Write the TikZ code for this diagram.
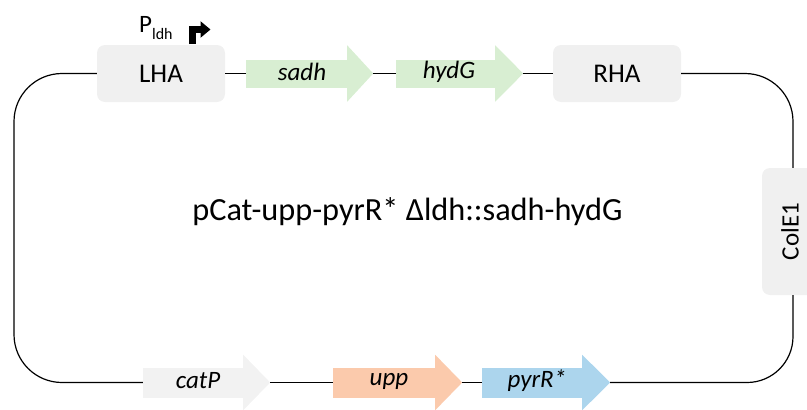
\documentclass[tikz,border=0pt]{standalone}
\usepackage{fontspec}
\setmainfont{Carlito}
\usetikzlibrary{arrows.meta}
\definecolor{boxgray}{RGB}{240,240,240}
\definecolor{genegray}{RGB}{242,242,242}
\definecolor{genegreen}{RGB}{216,238,210}
\definecolor{genepeach}{RGB}{251,202,172}
\definecolor{geneblue}{RGB}{172,213,237}
\newcommand\genehead[4]{%
  \fill[#4] ([yshift=#2]#1.north east) -- ([xshift=#3]#1.east) coordinate (#1-tip) -- ([yshift=-#2]#1.south east) -- cycle;}
\begin{document}
\begin{tikzpicture}[x=1pt,y=-1pt,
  hbox/.style={fill=boxgray, rounded corners=8pt, inner sep=0pt, font=\fontsize{27}{30}\selectfont},
  genebody/.style={inner sep=0pt, minimum height=28pt, font=\fontsize{25}{28}\selectfont\itshape},
  bb/.style={line width=1.2pt, black}]
\useasboundingbox (0,0) rectangle (807,410);
\clip (0,0) rectangle (807,410);
% backbone corners
\coordinate (tl) at (14,73.5);
\coordinate (tr) at (793,73.5);
\coordinate (br) at (793,382.5);
\coordinate (bl) at (14,382.5);
% boxes
\node[hbox, minimum width=128pt, minimum height=57pt] (LHA) at (161,73.5) {LHA};
\node[hbox, minimum width=128pt, minimum height=57pt] (RHA) at (617,73.5) {RHA};
\node[hbox, minimum width=62pt, minimum height=127pt] (ColE1) at (793,231.5) {};
\node[rotate=90, inner sep=0pt, font=\fontsize{25}{28}\selectfont] (ColE1txt) at (790,231.5) {ColE1};
% genes (bodies)
\node[genebody, fill=genegreen, minimum width=101pt] (sadh) at (296.5,73.5) {};
\genehead{sadh}{14pt}{26pt}{genegreen}
\node[genebody, fill=genegreen, minimum width=99pt] (hydG) at (445.5,73.5) {};
\genehead{hydG}{14pt}{28pt}{genegreen}
\node[genebody, fill=genegray, minimum width=100pt, minimum height=30pt] (catP) at (193,382.5) {};
\genehead{catP}{12.5pt}{27pt}{genegray}
\node[genebody, fill=genepeach, minimum width=102pt, minimum height=30pt] (upp) at (384,382.5) {};
\genehead{upp}{12.5pt}{27pt}{genepeach}
\node[genebody, fill=geneblue, minimum width=100pt, minimum height=30pt] (pyrR) at (532,382.5) {};
\genehead{pyrR}{12.5pt}{28pt}{geneblue}
% gene labels
\node[genebody] (sadhtxt) at (302,72) {sadh};
\node[genebody] (hydGtxt) at (449,72) {hydG};
\node[genebody] (catPtxt) at (198,381) {catP};
\node[genebody] (upptxt) at (389,381) {upp};
\node[genebody] (pyrRtxt) at (537,381) {pyrR*};
% backbone
\draw[bb] (LHA.east) -- (sadh.west);
\draw[bb] (sadh-tip) -- (hydG.west);
\draw[bb] (hydG-tip) -- (RHA.west);
\draw[bb, rounded corners=48pt] (RHA.east) -- (tr) -- (ColE1.north);
\draw[bb, rounded corners=46pt] (ColE1.south) -- (br) -- (pyrR-tip);
\draw[bb] (upp-tip) -- (pyrR.west);
\draw[bb] (catP-tip) -- (upp.west);
\draw[bb, rounded corners=48pt] (catP.west) -- (bl) -- (tl) -- (LHA.west);
% promoter
\node[inner sep=0pt, font=\fontsize{25}{28}\selectfont, anchor=base west] (Pldh) at (139,32) {P\raisebox{-0.3em}{\fontsize{16}{16}\selectfont ldh}};
\coordinate (pstem) at (192,44);
\coordinate (pend) at (210.5,29.5);
\draw[line width=7pt, line join=miter, -{Triangle[length=10pt,width=16pt]}] (pstem) |- (pend);
% title
\node[inner sep=0pt, font=\fontsize{32.3}{38}\selectfont, anchor=base] (title) at (407.5,220) {pCat-upp-pyrR* Δldh::sadh-hydG};
\end{tikzpicture}
\end{document}
